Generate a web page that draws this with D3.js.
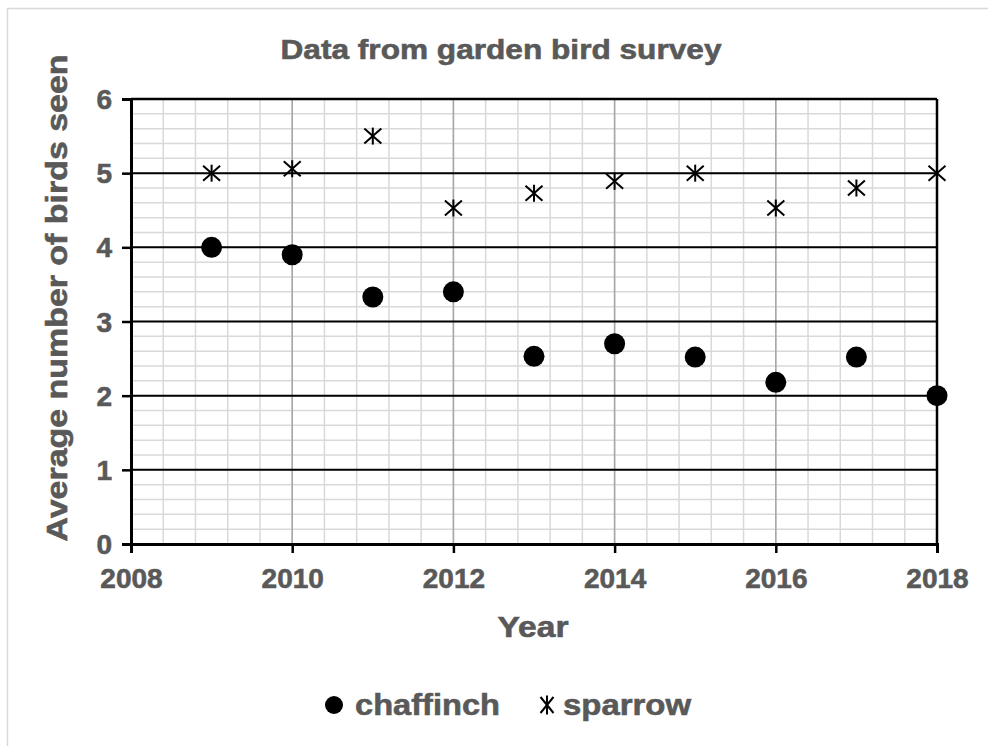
<!DOCTYPE html>
<html lang="en">
<head>
<meta charset="UTF-8" />
<script src="https://d3js.org/d3.v7.min.js"></script>
<title>Data from garden bird survey</title>
<style>
  body { margin: 0; background: #fff; }
  text { font-family: "Liberation Sans", Arial, sans-serif; font-weight: bold; fill: #595959; stroke: #595959; stroke-width: 0.6px; }
</style>
</head>
<body>
<script>
var w = 988;
var h = 746;

var years = [2009, 2010, 2011, 2012, 2013, 2014, 2015, 2016, 2017, 2018];
var chaffinch = [4.0, 3.9, 3.33, 3.4, 2.53, 2.7, 2.52, 2.18, 2.52, 2.0];
var sparrow = [5.0, 5.06, 5.5, 4.53, 4.73, 4.89, 5.0, 4.53, 4.8, 5.0];
var xTicks = [2008, 2010, 2012, 2014, 2016, 2018];
var yTicks = [0, 1, 2, 3, 4, 5, 6];

var plotLeft = 131, plotRight = 937, plotTop = 99, plotBottom = 544;

var x = d3.scaleLinear().domain([2008, 2018]).range([plotLeft, plotRight]);
var y = d3.scaleLinear().domain([0, 6]).range([plotBottom, plotTop]);

var svg = d3.select("body").append("svg")
  .attr("width", w)
  .attr("height", h);

// outer chart border
svg.append("rect")
  .attr("x", 7.5).attr("y", 8.5)
  .attr("width", w + 10).attr("height", h + 10)
  .attr("fill", "none")
  .attr("stroke", "#d9d9d9")
  .attr("stroke-width", 1.5);

// minor gridlines
var minorX = d3.range(2008, 2018.01, 0.4);
var minorY = d3.range(0, 6.01, 0.2);
svg.append("g").selectAll("line").data(minorX).enter().append("line")
  .attr("x1", d => x(d)).attr("x2", d => x(d))
  .attr("y1", plotTop).attr("y2", plotBottom)
  .attr("stroke", "#d9d9d9").attr("stroke-width", 1.5);
svg.append("g").selectAll("line").data(minorY).enter().append("line")
  .attr("x1", plotLeft).attr("x2", plotRight)
  .attr("y1", d => y(d)).attr("y2", d => y(d))
  .attr("stroke", "#d9d9d9").attr("stroke-width", 1.5);

// major gridlines
svg.append("g").selectAll("line").data(xTicks).enter().append("line")
  .attr("x1", d => x(d)).attr("x2", d => x(d))
  .attr("y1", plotTop).attr("y2", plotBottom)
  .attr("stroke", "#a6a6a6").attr("stroke-width", 1.5);
svg.append("g").selectAll("line").data(yTicks).enter().append("line")
  .attr("x1", plotLeft).attr("x2", plotRight)
  .attr("y1", d => y(d)).attr("y2", d => y(d))
  .attr("stroke", "#000").attr("stroke-width", 2);

// plot border on right/top
svg.append("line")
  .attr("x1", plotRight).attr("x2", plotRight).attr("y1", plotTop).attr("y2", plotBottom)
  .attr("stroke", "#000").attr("stroke-width", 2.5);
svg.append("line")
  .attr("x1", plotLeft).attr("x2", plotRight).attr("y1", plotTop).attr("y2", plotTop)
  .attr("stroke", "#000").attr("stroke-width", 2.5);

// axes
var xAxis = svg.append("g")
  .attr("transform", "translate(0," + plotBottom + ")")
  .call(d3.axisBottom(x).tickValues(xTicks).tickFormat(d3.format("d")).tickSize(9).tickPadding(10));
var yAxis = svg.append("g")
  .attr("transform", "translate(" + plotLeft + ",0)")
  .call(d3.axisLeft(y).tickValues(yTicks).tickFormat(d3.format("d")).tickSize(9).tickPadding(10));

[xAxis, yAxis].forEach(function (a) {
  a.select(".domain").attr("stroke", "#000").attr("stroke-width", 3);
  a.selectAll(".tick line").attr("stroke", "#000").attr("stroke-width", 2.5);
  a.selectAll(".tick text")
    .style("font-family", "'Liberation Sans', Arial, sans-serif")
    .style("font-weight", "bold")
    .attr("fill", "#595959")
    .attr("font-size", 28);
});
xAxis.selectAll(".tick text").attr("dy", "0.9em");
yAxis.selectAll(".tick text").attr("dy", "0.34em");

// chaffinch markers
svg.append("g").selectAll("circle").data(years).enter().append("circle")
  .attr("cx", d => x(d))
  .attr("cy", (d, i) => y(chaffinch[i]))
  .attr("r", 10.5)
  .attr("fill", "#000");

// sparrow markers (asterisk)
function asterisk(g, sx, sy, dy) {
  g.append("line").attr("x1", 0).attr("x2", 0).attr("y1", -sy).attr("y2", sy);
  g.append("line").attr("x1", -sx).attr("x2", sx).attr("y1", -dy).attr("y2", dy);
  g.append("line").attr("x1", -sx).attr("x2", sx).attr("y1", dy).attr("y2", -dy);
  g.attr("stroke", "#000").attr("stroke-width", 2);
}
svg.append("g").selectAll("g").data(years).enter().append("g")
  .attr("transform", (d, i) => "translate(" + x(d) + "," + y(sparrow[i]) + ")")
  .each(function () { asterisk(d3.select(this), 8.5, 8.5, 7.5); });

// title
svg.append("text")
  .attr("x", 501).attr("y", 59)
  .attr("text-anchor", "middle")
  .attr("font-size", 28)
  .attr("textLength", 441).attr("lengthAdjust", "spacingAndGlyphs")
  .text("Data from garden bird survey");

// axis titles
svg.append("text")
  .attr("x", 533).attr("y", 637)
  .attr("text-anchor", "middle")
  .attr("font-size", 30)
  .attr("textLength", 71).attr("lengthAdjust", "spacingAndGlyphs")
  .text("Year");

svg.append("text")
  .attr("transform", "translate(67,298) rotate(-90)")
  .attr("text-anchor", "middle")
  .attr("font-size", 30)
  .attr("textLength", 487).attr("lengthAdjust", "spacingAndGlyphs")
  .text("Average number of birds seen");

// legend
var legend = svg.append("g");
legend.append("circle").attr("cx", 334).attr("cy", 705).attr("r", 9).attr("fill", "#000");
legend.append("text").attr("x", 355).attr("y", 715).attr("font-size", 30)
  .attr("textLength", 145).attr("lengthAdjust", "spacingAndGlyphs")
  .text("chaffinch");
var la = legend.append("g").attr("transform", "translate(547,705)");
asterisk(la, 6.5, 9.5, 8);
legend.append("text").attr("x", 563).attr("y", 715).attr("font-size", 30)
  .attr("textLength", 128).attr("lengthAdjust", "spacingAndGlyphs")
  .text("sparrow");
</script>
</body>
</html>
